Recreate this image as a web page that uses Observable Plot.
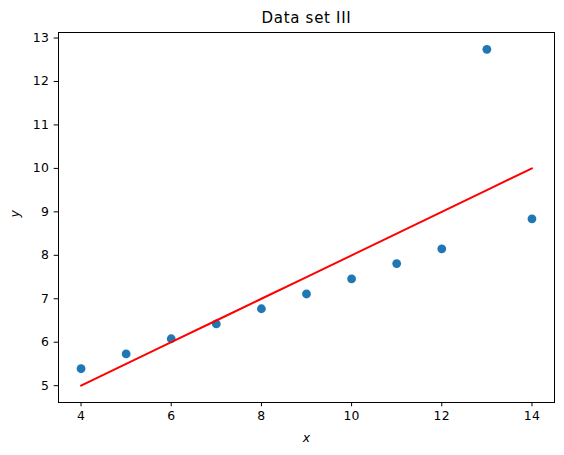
<!DOCTYPE html>
<html>
<head>
<meta charset="utf-8">
<script src="https://cdn.jsdelivr.net/npm/d3@7"></script>
<script src="https://cdn.jsdelivr.net/npm/@observablehq/plot@0.6"></script>
<style>
  html, body { margin: 0; padding: 0; background: #fff; }
  svg { display: block; }
  .ttl text { letter-spacing: 0.7px; }
  .tl text { letter-spacing: 0.3px; }
</style>
</head>
<body>
<div id="chart"></div>
<script>
const xs = [10, 8, 13, 9, 11, 14, 6, 4, 12, 7, 5];
const ys = [7.46, 6.77, 12.74, 7.11, 7.81, 8.84, 6.08, 5.39, 8.15, 6.42, 5.73];
const fitIntercept = 3.0;
const fitSlope = 0.5;
const xTicks = [4, 6, 8, 10, 12, 14];
const yTicks = [5, 6, 7, 8, 9, 10, 11, 12, 13];
const title = "Data set III";

const points = xs.map((x, i) => ({x, y: ys[i]}));
const fit = xs.map(x => ({x, y: fitIntercept + fitSlope * x})).sort((a, b) => a.x - b.x);

const font = "'DejaVu Sans', sans-serif";

const chart = Plot.plot({
  width: 564,
  height: 455,
  marginLeft: 58,
  marginRight: 10,
  marginTop: 32,
  marginBottom: 53,
  style: {fontFamily: font, fontSize: "12px", color: "#000", background: "#fff"},
  x: {domain: [3.5, 14.5]},
  y: {domain: [4.613, 13.127]},
  marks: [
    Plot.axisX({ticks: xTicks, tickSize: 4.3, tickPadding: 4, fontSize: 12.4, label: null, tickFormat: d => d, className: "tl"}),
    Plot.axisY({ticks: yTicks, tickSize: 4.3, tickPadding: 5, fontSize: 12.4, label: null, tickFormat: d => d, className: "tl"}),
    Plot.dot(points, {x: "x", y: "y", r: 4.4, fill: "#1f77b4", stroke: "none"}),
    Plot.line(fit, {x: "x", y: "y", stroke: "red", strokeWidth: 2}),
    Plot.frame({stroke: "#000", strokeWidth: 1}),
    Plot.text([title], {frameAnchor: "top", dy: -20, text: d => d, fontSize: 15, fill: "#000", className: "ttl"}),
    Plot.text(["x"], {frameAnchor: "bottom", dy: 39, text: d => d, fontSize: 12.4, fontStyle: "italic", fill: "#000"}),
    Plot.text(["y"], {frameAnchor: "left", dx: -43, text: d => d, fontSize: 12.4, fontStyle: "italic", rotate: -90, fill: "#000"})
  ]
});
document.getElementById("chart").appendChild(chart);
</script>
</body>
</html>
